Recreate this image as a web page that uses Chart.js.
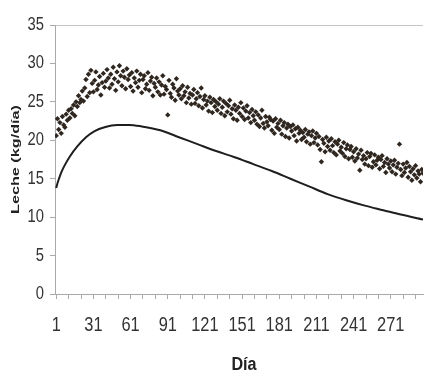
<!DOCTYPE html>
<html>
<head>
<meta charset="utf-8">
<script src="https://cdn.jsdelivr.net/npm/chart.js@4"></script>
<style>
  html, body { margin: 0; padding: 0; background: #ffffff; }
  #wrap { width: 427px; height: 374px; position: relative; }
</style>
</head>
<body>
<div id="wrap"><canvas id="c" width="427" height="374"></canvas></div>
<script>
// Observed daily milk yield (kg/día), day 1 onward
const milkObserved = [
  20.6, 22.8, 21.4, 22.3, 20.9, 23.1, 22.0, 21.7, 23.4, 22.6,
  23.9, 22.9, 24.1, 23.5, 24.6, 23.2, 25.0, 24.4, 25.8, 24.9,
  25.3, 26.4, 25.1, 26.8, 27.9, 25.7, 28.6, 26.2, 29.1, 27.4,
  26.3, 27.8, 28.9, 26.6, 27.2, 28.3, 25.9, 27.5, 28.7, 26.9,
  27.7, 29.2, 28.1, 26.8, 28.6, 27.3, 29.5, 28.0, 26.5, 28.9,
  27.6, 29.7, 28.4, 27.1, 29.0, 28.2, 26.7, 29.3, 27.9, 28.5,
  27.0, 28.8, 26.4, 28.1, 27.5, 29.0, 26.9, 27.8, 28.6, 26.2,
  27.9, 28.4, 26.7, 27.3, 28.8, 26.5, 27.7, 28.2, 25.8, 27.4,
  26.9, 28.1, 26.3, 27.6, 25.9, 27.2, 28.4, 26.0, 27.0, 26.6,
  23.3, 27.8, 26.1, 25.6, 27.3, 26.8, 25.2, 28.0, 26.4, 25.9,
  26.7, 25.4, 27.1, 25.8, 26.3, 24.9, 26.9, 25.5, 26.1, 24.7,
  25.9, 26.6, 24.8, 25.4, 26.2, 24.5, 25.7, 26.8, 24.2, 25.3,
  25.8, 24.6, 25.1, 23.8, 25.6, 24.9, 23.6, 25.3, 24.4, 25.0,
  23.9, 24.7, 25.4, 23.5, 24.3, 25.1, 23.2, 24.8, 23.7, 24.5,
  25.2, 23.4, 24.1, 22.8, 24.6, 23.9, 22.6, 24.3, 23.5, 24.9,
  23.1, 24.2, 22.7, 23.8, 24.5, 22.9, 23.6, 22.3, 24.0, 23.2,
  22.6, 23.7, 22.1, 23.3, 21.8, 22.9, 23.9, 22.2, 21.6, 23.1,
  22.4, 21.9, 23.0, 22.7, 21.3, 22.5, 20.9, 22.8, 21.7, 22.2,
  21.4, 22.6, 20.8, 21.9, 22.3, 20.5, 21.6, 22.1, 20.3, 21.8,
  21.2, 22.0, 20.6, 21.5, 19.9, 21.7, 20.9, 21.3, 20.1, 21.0,
  20.4, 21.4, 19.8, 20.8, 21.1, 19.5, 20.6, 21.2, 19.7, 20.3,
  20.9, 19.4, 20.5, 18.8, 17.2, 20.1, 19.6, 18.5, 20.4, 19.2,
  19.9, 18.7, 20.2, 19.3, 18.4, 19.8, 18.1, 19.5, 20.0, 18.6,
  19.1, 18.3, 19.7, 17.9, 18.9, 19.4, 17.6, 18.8, 19.2, 17.8,
  18.5, 17.3, 18.9, 17.7, 18.2, 16.1, 18.7, 17.5, 18.0, 16.9,
  17.6, 18.4, 16.7, 17.9, 18.3, 16.5, 17.2, 18.1, 16.8, 17.4,
  17.8, 16.3, 17.5, 18.0, 16.6, 17.1, 15.8, 17.6, 16.9, 16.4,
  17.3, 15.9, 16.8, 17.4, 15.6, 16.5, 17.0, 19.5, 16.2, 15.4,
  16.9, 15.8, 16.4, 17.1, 15.2, 16.6, 15.9, 14.8, 16.3, 15.5,
  16.7, 15.1, 16.0, 15.6, 14.6, 16.2, 15.7
];

// Fitted lactation curve (read at selected days)
const curveDays   = [1, 2, 3, 5, 8, 12, 18, 25, 32, 40, 50, 60, 70, 85, 100, 115, 130, 145, 160, 175, 190, 205, 220, 235, 250, 265, 280, 297];
const curveValues = [13.8, 14.4, 14.9, 15.8, 16.8, 17.9, 19.2, 20.4, 21.2, 21.7, 22.0, 22.0, 21.8, 21.3, 20.4, 19.5, 18.6, 17.8, 16.9, 16.0, 15.0, 14.0, 13.0, 12.2, 11.5, 10.9, 10.3, 9.7];

const xTickDays = [1, 11, 21, 31, 41, 51, 61, 71, 81, 91, 101, 111, 121, 131, 141, 151, 161, 171, 181, 191, 201, 211, 221, 231, 241, 251, 261, 271, 281, 291];
const xLabelDays = [1, 31, 61, 91, 121, 151, 181, 211, 241, 271];
const yTicks = [0, 5, 10, 15, 20, 25, 30, 35];

const xTitle = 'Día';
const yTitle = 'Leche (kg/día)';

const SANS = "'Liberation Sans', Arial, sans-serif";

const scatterPts = milkObserved.map((v, i) => ({ x: i + 1, y: v }));
const curvePts = curveDays.map((d, i) => ({ x: d, y: curveValues[i] }));

// Draws axis labels and titles in a condensed (Arial‑Narrow‑like) look
const textPlugin = {
  id: 'textPlugin',
  afterDraw(chart) {
    const { ctx, chartArea, scales } = chart;
    // x tick labels
    ctx.save();
    ctx.fillStyle = '#333';
    ctx.font = '20px ' + SANS;
    ctx.textAlign = 'center';
    ctx.textBaseline = 'middle';
    xLabelDays.forEach(d => {
      const x = scales.x.getPixelForValue(d);
      ctx.save();
      ctx.translate(x, chartArea.bottom + 31);
      ctx.scale(0.82, 1);
      ctx.fillText(String(d), 0, 0);
      ctx.restore();
    });
    // y tick labels
    ctx.font = '18px ' + SANS;
    ctx.textAlign = 'right';
    yTicks.forEach(v => {
      const y = scales.y.getPixelForValue(v);
      ctx.save();
      ctx.translate(44, y);
      ctx.scale(0.82, 1);
      ctx.fillText(String(v), 0, 0);
      ctx.restore();
    });
    // x title
    ctx.fillStyle = '#222';
    ctx.font = 'bold 19px ' + SANS;
    ctx.textAlign = 'center';
    ctx.textBaseline = 'alphabetic';
    ctx.save();
    ctx.translate(244, 370);
    ctx.scale(0.85, 1);
    ctx.fillText(xTitle, 0, 0);
    ctx.restore();
    // y title
    ctx.save();
    ctx.translate(16, (chartArea.top + chartArea.bottom) / 2);
    ctx.rotate(-Math.PI / 2);
    ctx.font = 'bold 11px ' + SANS;
    const w = ctx.measureText(yTitle).width;
    ctx.scale(109 / w, 1);
    ctx.textBaseline = 'middle';
    ctx.fillText(yTitle, 0, 0);
    ctx.restore();
    ctx.restore();
  }
};

new Chart(document.getElementById('c'), {
  type: 'scatter',
  data: {
    datasets: [
      {
        label: 'Observado',
        data: scatterPts,
        pointStyle: 'rectRot',
        pointRadius: 2.7,
        pointBackgroundColor: '#2e261f',
        pointBorderColor: '#2e261f',
        pointBorderWidth: 0,
        showLine: false
      },
      {
        label: 'Curva',
        data: curvePts,
        showLine: true,
        pointRadius: 0,
        borderColor: '#1e1e1e',
        borderWidth: 2,
        cubicInterpolationMode: 'monotone',
        fill: false
      }
    ]
  },
  options: {
    responsive: false,
    animation: false,
    events: [],
    layout: { padding: { top: 25, right: 0, left: 0, bottom: 0 } },
    plugins: { legend: { display: false }, tooltip: { enabled: false } },
    scales: {
      x: {
        type: 'linear',
        min: 0,
        max: 297,
        afterBuildTicks(scale) { scale.ticks = xTickDays.map(v => ({ value: v })); },
        afterFit(scale) { scale.height = 80; },
        ticks: { display: false },
        grid: { drawOnChartArea: false, drawTicks: true, tickLength: 5, tickColor: '#aaa' },
        border: { color: '#aaa', width: 1 },
        title: { display: false }
      },
      y: {
        min: 0,
        max: 35,
        afterBuildTicks(scale) { scale.ticks = yTicks.map(v => ({ value: v })); },
        afterFit(scale) { scale.width = 55; },
        ticks: { display: false },
        grid: {
          drawOnChartArea: true,
          drawTicks: true,
          tickLength: 5,
          color: (c) => (c.tick && c.tick.value === 35) ? '#c4c4c4' : 'rgba(0,0,0,0)',
          tickColor: '#aaa'
        },
        border: { color: '#aaa', width: 1 }
      }
    }
  },
  plugins: [textPlugin]
});
</script>
</body>
</html>
